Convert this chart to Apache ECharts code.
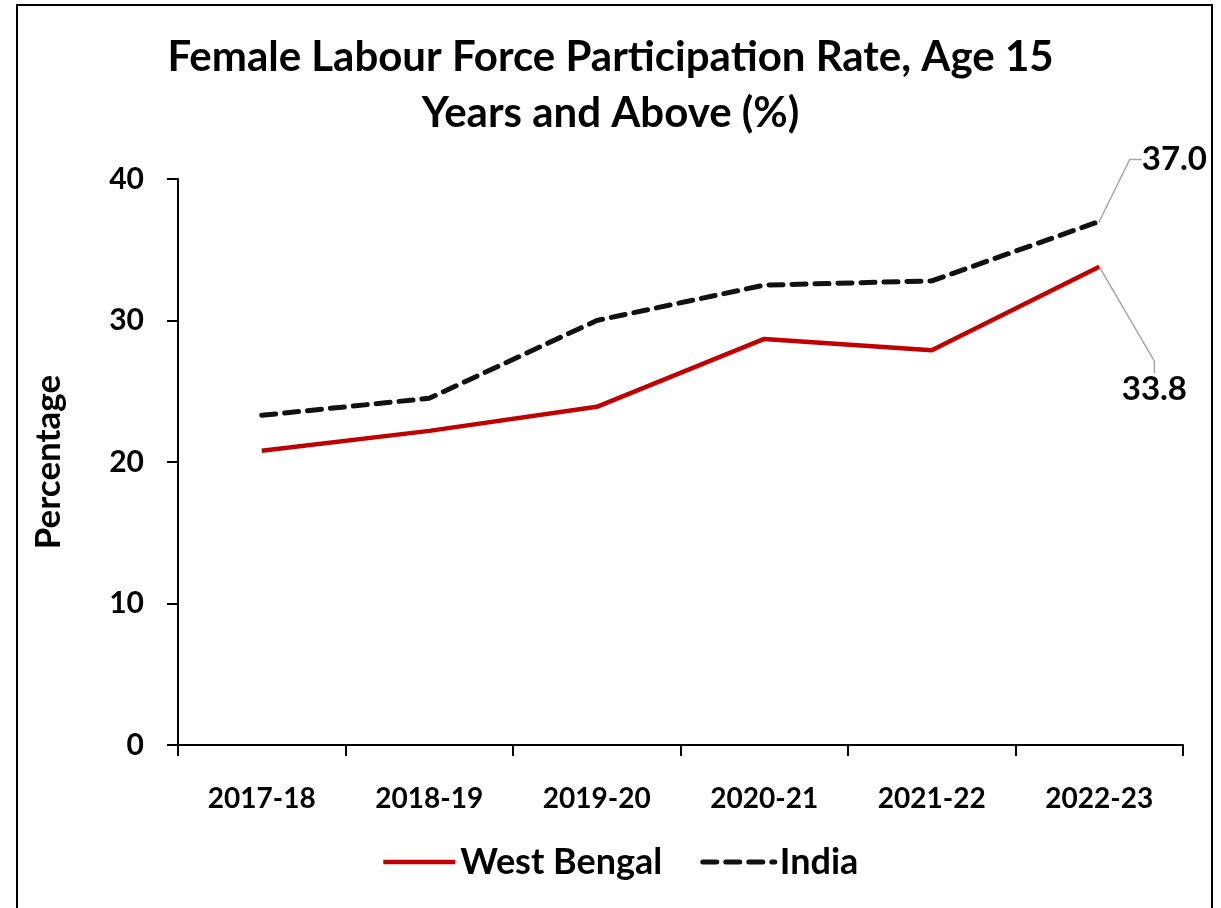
<!DOCTYPE html>
<html>
<head>
<meta charset="utf-8">
<script src="https://cdn.jsdelivr.net/npm/echarts@6/dist/echarts.min.js"></script>
<style>
  html, body { margin: 0; padding: 0; background: #fff; }
  #chart { width: 1221px; height: 908px; }
</style>
</head>
<body>
<div id="chart"></div>
<script>
const years = ['2017-18', '2018-19', '2019-20', '2020-21', '2021-22', '2022-23'];
const westBengal = [20.8, 22.2, 23.9, 28.7, 27.9, 33.8];
const india = [23.3, 24.5, 30.0, 32.5, 32.8, 37.0];
const yTicks = [0, 10, 20, 30, 40];

const font = 'Lato, "Open Sans", sans-serif';

// only the last point gets a (tiny) symbol so its label can be drawn
const withEndLabel = (arr, boxWidth) => arr.map((v, i) => {
  if (i !== arr.length - 1) return v;
  return {
    value: v,
    symbol: 'circle',
    symbolSize: 1,
    label: {
      show: true,
      position: 'right',
      formatter: p => p.value.toFixed(1),
      fontFamily: font,
      fontWeight: 'bold',
      fontSize: 33,
      color: '#000',
      width: boxWidth,
      align: 'left'
    },
    labelLine: { show: true, length2: 12, lineStyle: { color: '#a6a6a6', width: 1.5 } }
  };
});

const chart = echarts.init(document.getElementById('chart'));

const option = {
  backgroundColor: '#fff',
  graphic: [{
    type: 'rect',
    shape: { x: 17, y: 5, width: 1195, height: 920 },
    style: { fill: 'none', stroke: '#000', lineWidth: 2 },
    silent: true
  }],
  title: {
    text: 'Female Labour Force Participation Rate, Age 15\nYears and Above (%)',
    left: 'center',
    top: 24,
    textStyle: {
      fontFamily: font,
      fontWeight: 'bold',
      fontSize: 42,
      lineHeight: 56,
      color: '#000'
    }
  },
  grid: { left: 178, right: 38, top: 179, bottom: 163 },
  legend: {
    bottom: 23,
    left: 376,
    itemWidth: 72,
    itemHeight: 14,
    itemGap: 38,
    itemStyle: { opacity: 0 },
    lineStyle: { width: 'inherit' },
    textStyle: { fontFamily: font, fontWeight: 'bold', fontSize: 36, color: '#000' },
    data: ['West Bengal', 'India']
  },
  xAxis: {
    type: 'category',
    data: years,
    boundaryGap: true,
    axisLine: { lineStyle: { color: '#000', width: 2 } },
    axisTick: { show: true, length: 11, lineStyle: { color: '#000', width: 2 } },
    axisLabel: {
      margin: 40,
      fontFamily: font,
      fontWeight: 'bold',
      fontSize: 28,
      color: '#000'
    }
  },
  yAxis: {
    type: 'value',
    min: yTicks[0],
    max: yTicks[yTicks.length - 1],
    interval: 10,
    name: 'Percentage',
    nameLocation: 'middle',
    nameGap: 112,
    nameTextStyle: { fontFamily: font, fontWeight: 'bold', fontSize: 35, color: '#000' },
    axisLine: { show: true, lineStyle: { color: '#000', width: 2 } },
    axisTick: { show: true, length: 11, lineStyle: { color: '#000', width: 2 } },
    splitLine: { show: false },
    axisLabel: {
      margin: 34,
      fontFamily: font,
      fontWeight: 'bold',
      fontSize: 30,
      color: '#000'
    }
  },
  series: [
    {
      name: 'West Bengal',
      type: 'line',
      data: withEndLabel(westBengal, 200),
      symbol: 'none',
      color: '#c00000',
      lineStyle: { color: '#c00000', width: 4.5 },
      labelLayout: { dx: 17, dy: 123 },
      z: 3
    },
    {
      name: 'India',
      type: 'line',
      data: withEndLabel(india, 64),
      symbol: 'none',
      color: '#111',
      lineStyle: { color: '#111', width: 5, type: [14, 9], cap: 'round' },
      labelLayout: { dx: 37, dy: -62 },
      z: 2
    }
  ]
};

option && chart.setOption(option);
</script>
</body>
</html>
